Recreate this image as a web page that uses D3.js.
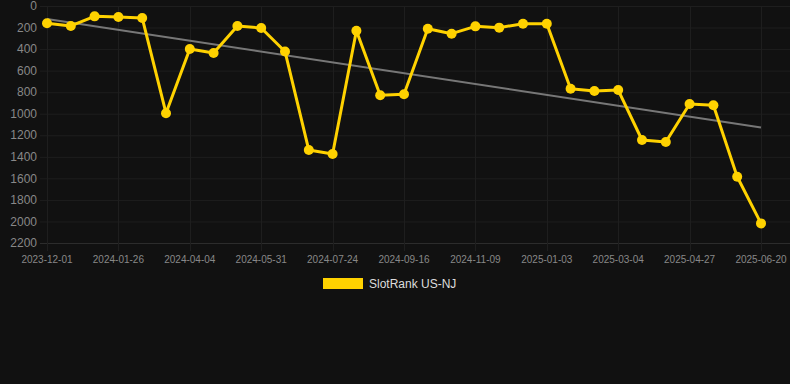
<!DOCTYPE html>
<html><head><meta charset="utf-8">
<script src="https://cdn.jsdelivr.net/npm/d3@7/dist/d3.min.js"></script>
<style>html,body{margin:0;padding:0;background:#111111;}svg{display:block;}</style>
</head><body>
<script>
const categories = ["2023-12-01","2023-12-20","2024-01-07","2024-01-26","2024-02-18","2024-03-12","2024-04-04","2024-04-23","2024-05-12","2024-05-31","2024-06-17","2024-07-06","2024-07-24","2024-08-11","2024-08-29","2024-09-16","2024-10-04","2024-10-22","2024-11-09","2024-11-27","2024-12-15","2025-01-03","2025-01-23","2025-02-12","2025-03-04","2025-03-22","2025-04-09","2025-04-27","2025-05-15","2025-06-02","2025-06-20"];
const rankValues = [160,185,96,102,111,995,399,436,186,204,422,1337,1374,229,829,820,211,257,189,201,164,164,768,789,780,1244,1263,910,922,1585,2018];
const yTicks = [0,200,400,600,800,1000,1200,1400,1600,1800,2000,2200];
const xTickLabels = ["2023-12-01","2024-01-26","2024-04-04","2024-05-31","2024-07-24","2024-09-16","2024-11-09","2025-01-03","2025-03-04","2025-04-27","2025-06-20"];
const seriesName = "SlotRank US-NJ";

const W = 790, H = 384;
const svg = d3.select("body").append("svg").attr("width", W).attr("height", H);
svg.append("rect").attr("width", W).attr("height", H).attr("fill", "#111111");

const x = d3.scalePoint().domain(categories).range([47, 761]);
const y = d3.scaleLinear().domain([0, 2200]).range([6, 243]);
const font = "'Liberation Sans', Arial, Helvetica, sans-serif";

// grid
const g = svg.append("g");
g.selectAll("line.h").data(yTicks).enter().append("line")
  .attr("x1", 40).attr("x2", 790)
  .attr("y1", d => y(d) + 0.5).attr("y2", d => y(d) + 0.5)
  .attr("stroke", d => d === 2200 ? "#2c2c2c" : "#1e1e1e").attr("stroke-width", 1);
g.selectAll("line.v").data(xTickLabels).enter().append("line")
  .attr("x1", d => Math.round(x(d)) + 0.5).attr("x2", d => Math.round(x(d)) + 0.5)
  .attr("y1", 6).attr("y2", 251)
  .attr("stroke", "#1e1e1e").attr("stroke-width", 1);

// y labels
svg.append("g").selectAll("text").data(yTicks).enter().append("text")
  .attr("x", 37).attr("y", d => y(d)).attr("dy", "0.35em")
  .attr("text-anchor", "end").attr("fill", "#888888")
  .attr("font-family", font).attr("font-size", 12).text(d => d);

// x labels
svg.append("g").selectAll("text").data(xTickLabels).enter().append("text")
  .attr("x", d => x(d)).attr("y", 259).attr("dy", "0.35em")
  .attr("text-anchor", "middle").attr("fill", "#888888")
  .attr("font-family", font).attr("font-size", 10).text(d => d);

// trend line (least squares)
const n = rankValues.length;
const idx = d3.range(n);
const mx = d3.mean(idx), my = d3.mean(rankValues);
const slope = d3.sum(idx, i => (i - mx) * (rankValues[i] - my)) / d3.sum(idx, i => (i - mx) ** 2);
const icpt = my - slope * mx;
svg.append("line")
  .attr("x1", x(categories[0])).attr("y1", y(icpt))
  .attr("x2", x(categories[n - 1])).attr("y2", y(icpt + slope * (n - 1)))
  .attr("stroke", "#777777").attr("stroke-width", 2);

// main line
const color = "#ffd200";
svg.append("path").datum(rankValues)
  .attr("fill", "none").attr("stroke", color).attr("stroke-width", 3)
  .attr("stroke-linejoin", "round")
  .attr("d", d3.line().x((d, i) => x(categories[i])).y(d => y(d)));
svg.append("g").selectAll("circle").data(rankValues).enter().append("circle")
  .attr("cx", (d, i) => x(categories[i])).attr("cy", d => y(d)).attr("r", 5)
  .attr("fill", color);

// legend
svg.append("rect").attr("x", 323).attr("y", 278).attr("width", 40).attr("height", 11).attr("fill", color);
svg.append("text").attr("x", 369).attr("y", 284).attr("dy", "0.35em")
  .attr("fill", "#dddddd").attr("font-family", font).attr("font-size", 12).text(seriesName);
</script>
</body></html>
